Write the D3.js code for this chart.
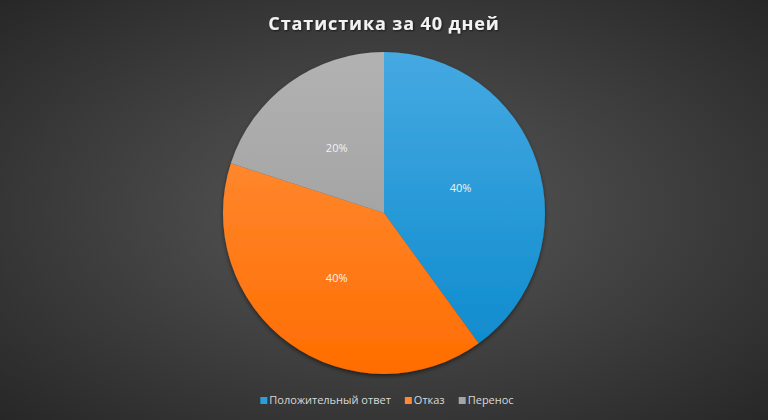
<!DOCTYPE html>
<html lang="ru">
<head>
    <meta charset="utf-8">
    <title>Статистика за 40 дней</title>
    <script src="https://d3js.org/d3.v7.min.js"></script>
    <style>
        html, body { margin: 0; padding: 0; background: #333; }
        svg { display: block; font-family: "Open Sans", "Noto Sans", sans-serif; }
    </style>
</head>
<body>
    <div id="chart"></div>
    <script>
        // data
        const categories = ["Положительный ответ", "Отказ", "Перенос"];
        const values = [40, 40, 20];
        const colorsTop = ["#45a9e2", "#ff9444", "#b2b2b2"];
        const colorsBottom = ["#0a89cc", "#ff6d00", "#979797"];
        const legendColors = ["#2a9fdc", "#ff8833", "#a5a5a5"];
        const title = "Статистика за 40 дней";

        const width = 768;
        const height = 420;
        const cx = 384, cy = 213, radius = 161;

        const svg = d3.select("#chart").append("svg")
            .attr("width", width)
            .attr("height", height);

        const defs = svg.append("defs");

        // background
        const bg = defs.append("radialGradient")
            .attr("id", "bg")
            .attr("cx", "50%").attr("cy", "50%").attr("r", "75%");
        bg.append("stop").attr("offset", "0%").attr("stop-color", "#595959");
        bg.append("stop").attr("offset", "100%").attr("stop-color", "#242424");
        svg.append("rect").attr("width", width).attr("height", height).attr("fill", "url(#bg)");

        // slice gradients, vertical across the pie (local coords of the pie group)
        categories.forEach((c, i) => {
            const g = defs.append("linearGradient")
                .attr("id", "grad" + i)
                .attr("gradientUnits", "userSpaceOnUse")
                .attr("x1", 0).attr("y1", -radius)
                .attr("x2", 0).attr("y2", radius);
            g.append("stop").attr("offset", "0%").attr("stop-color", colorsTop[i]);
            g.append("stop").attr("offset", "100%").attr("stop-color", colorsBottom[i]);
        });

        const shadow = defs.append("filter").attr("id", "shadow")
            .attr("x", "-10%").attr("y", "-10%").attr("width", "120%").attr("height", "125%");
        shadow.append("feDropShadow")
            .attr("dx", 0).attr("dy", 2).attr("stdDeviation", 2)
            .attr("flood-color", "#000").attr("flood-opacity", 0.5);

        const titleShadow = defs.append("filter").attr("id", "tshadow");
        titleShadow.append("feDropShadow")
            .attr("dx", 1).attr("dy", 1).attr("stdDeviation", 1)
            .attr("flood-color", "#000").attr("flood-opacity", 0.6);

        // title
        svg.append("text")
            .attr("x", width / 2)
            .attr("y", 30)
            .attr("text-anchor", "middle")
            .attr("fill", "#f2f2f2")
            .attr("font-size", 18)
            .attr("font-weight", "bold")
            .attr("letter-spacing", 0.9)
            .attr("filter", "url(#tshadow)")
            .text(title);

        // pie
        const pie = d3.pie().sort(null).value(d => d);
        const arcs = pie(values);
        const arc = d3.arc().innerRadius(0).outerRadius(radius);
        const labelArc = d3.arc().innerRadius(radius / 2).outerRadius(radius / 2);
        const total = d3.sum(values);

        const g = svg.append("g").attr("transform", `translate(${cx},${cy})`);

        g.append("g")
            .attr("filter", "url(#shadow)")
            .selectAll("path")
            .data(arcs)
            .enter()
            .append("path")
                .attr("d", arc)
                .attr("fill", (d, i) => `url(#grad${i})`);

        g.selectAll("text.lbl")
            .data(arcs)
            .enter()
            .append("text")
                .attr("class", "lbl")
                .attr("transform", d => `translate(${labelArc.centroid(d)})`)
                .attr("text-anchor", "middle")
                .attr("dy", "0.35em")
                .attr("fill", "#f2f2f2")
                .attr("font-size", 11)
                .text(d => Math.round(d.data / total * 100) + "%");

        // legend
        const legend = svg.append("g");
        const items = legend.selectAll("g")
            .data(categories)
            .enter()
            .append("g");
        items.append("rect")
            .attr("width", 7).attr("height", 7)
            .attr("y", -7)
            .attr("fill", (d, i) => legendColors[i]);
        items.append("text")
            .attr("x", 9)
            .attr("fill", "#d9d9d9")
            .attr("font-size", 11)
            .text(d => d);

        let x = 0;
        const gap = 14;
        items.each(function () {
            const w = this.getBBox().width;
            d3.select(this).attr("transform", `translate(${x},0)`);
            x += w + gap;
        });
        const totalW = x - gap;
        legend.attr("transform", `translate(${(width - totalW) / 2 + 3},404)`);
    </script>
</body>
</html>
